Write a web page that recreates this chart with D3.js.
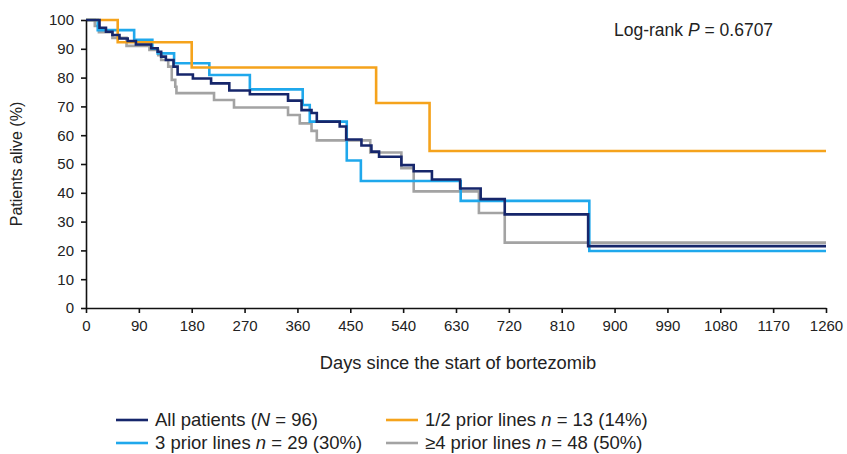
<!DOCTYPE html>
<html>
<head>
<meta charset="utf-8">
<script src="https://cdn.jsdelivr.net/npm/d3@7"></script>
<style>
  body { margin: 0; background: #fff; }
  svg text { font-family: "Liberation Sans", Arial, sans-serif; fill: #222; }
</style>
</head>
<body>
<svg id="chart" width="847" height="454"></svg>
<script>
// x ticks (days) and y ticks (%)
const xTicks = [0, 90, 180, 270, 360, 450, 540, 630, 720, 810, 900, 990, 1080, 1170, 1260];
const yTicks = [0, 10, 20, 30, 40, 50, 60, 70, 80, 90, 100];

// Kaplan-Meier steps: day of step, survival after it
const allDays = [0, 23, 34, 45, 57, 71, 85, 111, 122, 128, 136, 149, 156, 182, 213, 244, 279, 344, 367, 384, 393, 432, 443, 469, 486, 499, 537, 558, 589, 637, 672, 713, 855, 1260];
const allSurv = [100, 97.3, 95.9, 94.8, 93.6, 92.7, 91.5, 90.2, 89.0, 87.3, 86.1, 83.8, 81.1, 79.7, 78.0, 75.5, 74.2, 72.0, 68.7, 67.7, 64.7, 63.0, 58.5, 56.4, 54.3, 52.5, 49.6, 47.5, 44.6, 41.5, 37.8, 32.5, 21.5, 21.5];

const oneTwoDays = [0, 54, 180, 494, 585, 1260];
const oneTwoSurv = [100, 92.3, 83.5, 71.2, 54.5, 54.5];

const threeDays = [0, 20, 82, 113, 122, 150, 210, 279, 369, 381, 444, 468, 638, 857, 1260];
const threeSurv = [100, 96.5, 93.1, 90.0, 88.4, 85.0, 80.9, 75.9, 70.5, 64.7, 51.2, 44.1, 37.2, 19.8, 19.8];

const fourDays = [0, 15, 22, 45, 69, 108, 123, 128, 140, 146, 152, 154, 218, 252, 344, 364, 384, 393, 484, 537, 558, 669, 713, 1260];
const fourSurv = [100, 97.9, 95.8, 93.8, 91.0, 89.6, 87.8, 86.1, 83.8, 79.2, 76.8, 74.6, 72.2, 69.6, 67.0, 64.1, 61.5, 58.2, 54.0, 48.5, 40.5, 33.0, 22.7, 22.7];

const series = [
  {name: "all", days: allDays, surv: allSurv, color: "#16266b"},
  {name: "3", days: threeDays, surv: threeSurv, color: "#1fa8ec"},
  {name: "4", days: fourDays, surv: fourSurv, color: "#a3a3a3"},
  {name: "12", days: oneTwoDays, surv: oneTwoSurv, color: "#f5a31c"}
];
// draw order: gray, blue, orange, navy on top
const drawOrder = ["4", "3", "12", "all"];

const margin = {top: 20, left: 86, right: 21, bottom: 146};
const width = 847 - margin.left - margin.right;
const height = 454 - margin.top - margin.bottom;

const x = d3.scaleLinear().domain([0, 1260]).range([0, width]);
const y = d3.scaleLinear().domain([0, 100]).range([height, 0]);

const svg = d3.select("#chart");
const g = svg.append("g").attr("transform", "translate(" + margin.left + "," + margin.top + ")");

const line = d3.line()
  .x(d => x(d[0]))
  .y(d => y(d[1]))
  .curve(d3.curveStepAfter);

drawOrder.forEach(key => {
  const s = series.find(d => d.name == key);
  g.append("path")
    .datum(s.days.map((d, i) => [d, s.surv[i]]))
    .attr("fill", "none")
    .attr("stroke", s.color)
    .attr("stroke-width", 2.6)
    .attr("d", line);
});

// axes
const yAxis = d3.axisLeft(y).tickValues(yTicks).tickSize(5).tickSizeOuter(0).tickPadding(7);
const xAxis = d3.axisBottom(x).tickValues(xTicks).tickFormat(d3.format("d"))
  .tickSize(5).tickSizeOuter(0).tickPadding(7);

const gy = g.append("g").call(yAxis);
const gx = g.append("g").attr("transform", "translate(0," + height + ")").call(xAxis);
[gx, gy].forEach(a => {
  a.selectAll("path, line").attr("stroke", "#111").attr("stroke-width", 1.6);
  a.selectAll("text").style("font-size", "15px").attr("fill", "#222");
});

g.append("text")
  .attr("x", width / 2 + 2)
  .attr("y", height + 61)
  .attr("text-anchor", "middle")
  .style("font-size", "18.3px")
  .text("Days since the start of bortezomib");

svg.append("text")
  .attr("transform", "translate(22," + (margin.top + height / 2) + ") rotate(-90)")
  .attr("text-anchor", "middle")
  .style("font-size", "16px")
  .text("Patients alive (%)");

const lr = svg.append("text").attr("x", 614).attr("y", 36).style("font-size", "17.5px");
lr.append("tspan").text("Log-rank ");
lr.append("tspan").style("font-style", "italic").text("P");
lr.append("tspan").text(" = 0.6707");

// legend
const legendItems = [
  {key: "all", col: 0, row: 0, parts: [["All patients (", false], ["N", true], [" = 96)", false]]},
  {key: "12", col: 1, row: 0, parts: [["1/2 prior lines ", false], ["n", true], [" = 13 (14%)", false]]},
  {key: "3", col: 0, row: 1, parts: [["3 prior lines ", false], ["n", true], [" = 29 (30%)", false]]},
  {key: "4", col: 1, row: 1, parts: [["\u22654 prior lines ", false], ["n", true], [" = 48 (50%)", false]]}
];
const colX = [116, 386];
const rowY = [420, 443];
legendItems.forEach(it => {
  const s = series.find(d => d.name == it.key);
  const lx = colX[it.col], ly = rowY[it.row];
  svg.append("line")
    .attr("x1", lx).attr("x2", lx + 32)
    .attr("y1", ly).attr("y2", ly)
    .attr("stroke", s.color).attr("stroke-width", 2.6);
  const t = svg.append("text").attr("x", lx + 39).attr("y", ly + 6).style("font-size", "18.5px");
  it.parts.forEach(p => {
    t.append("tspan").style("font-style", p[1] ? "italic" : "normal").text(p[0]);
  });
});
</script>
</body>
</html>
